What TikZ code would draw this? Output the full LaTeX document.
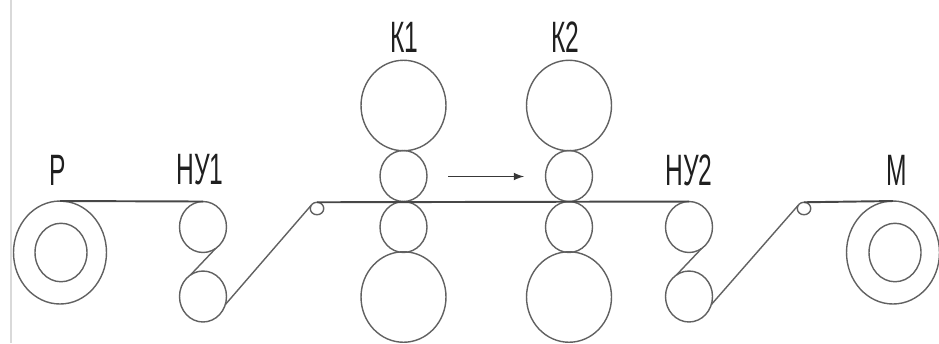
\documentclass[tikz,border=0pt]{standalone}
\usepackage{fontspec}
\setmainfont{Liberation Sans}
\usetikzlibrary{shapes,arrows}

\begin{document}
\begin{tikzpicture}[x=0.02cm,y=-0.02cm,
		line width=.8pt,color=black!62,
		roll/.style={ellipse,draw,inner sep=0pt,outer sep=0pt},
		bigroll/.style={roll,minimum width=1.70cm,minimum height=1.81cm},
		workroll/.style={roll,minimum width=.94cm,minimum height=1.02cm},
		coil/.style={roll,minimum width=1.86cm,minimum height=2.06cm},
		core/.style={roll,minimum width=1.04cm,minimum height=1.17cm},
		guide/.style={roll,minimum width=.27cm,minimum height=.25cm},
		strip/.style={line width=1.1pt,black!72},
		tag/.style={xscale=.56,inner sep=0pt,text=black!88,font=\fontsize{25}{25}\selectfont}]
		\useasboundingbox (0,0) rectangle (939,343);
		% Frame edge
		\coordinate (edgetop) at (11,0);
		\coordinate (edgebot) at (11,343);
		\draw[black!15,line width=1.2pt] (edgetop) -- (edgebot);
		% Coils
		\node[coil] (pay) at (60,252.5) {};
		\node[core] (paycore) at (61,252.5) {};
		\node[coil] (mandrel) at (893,252.5) {};
		\node[core] (mandrelcore) at (895,252.5) {};
		% Tension units
		\node[workroll] (nu1a) at (203,227) {};
		\node[workroll] (nu1b) at (203,296.5) {};
		\node[workroll] (nu2a) at (689,227) {};
		\node[workroll] (nu2b) at (689,296.5) {};
		\node[guide] (guide1) at (317,208.5) {};
		\node[guide] (guide2) at (804,208.5) {};
		% Stands
		\foreach \stand/\x in {k1/403.5,k2/569} {
			\node[bigroll] (\stand top) at (\x,105.5) {};
			\node[workroll] (\stand upper) at (\x,176) {};
			\node[workroll] (\stand lower) at (\x,227) {};
			\node[bigroll] (\stand bot) at (\x,297) {};
		}
		% Strip
		\draw[strip] (pay.north) -- (nu1a.north);
		\draw (nu1a.-60) -- (nu1b.120);
		\draw (nu1b.-20) -- (guide1.150);
		\draw[strip] (guide1.north) -- (nu2a.north);
		\draw (nu2a.-60) -- (nu2b.120);
		\draw (nu2b.-20) -- (guide2.150);
		\draw[strip] (guide2.north) -- (mandrel.north);
		% Direction
		\coordinate (dirstart) at (448,176.5);
		\coordinate (dirend) at (524,176.5);
		\draw[-latex,line width=1pt,black!78] (dirstart) -- (dirend);
		% Labels
		\node[tag] (labelp) at (58,170) {Р};
		\node[tag] (labelnu1) at (200,170) {НУ1};
		\node[tag] (labelk1) at (404,37) {К1};
		\node[tag] (labelk2) at (565,37) {К2};
		\node[tag] (labelnu2) at (689,170) {НУ2};
		\node[tag] (labelm) at (897,170) {М};
\end{tikzpicture}
\end{document}
